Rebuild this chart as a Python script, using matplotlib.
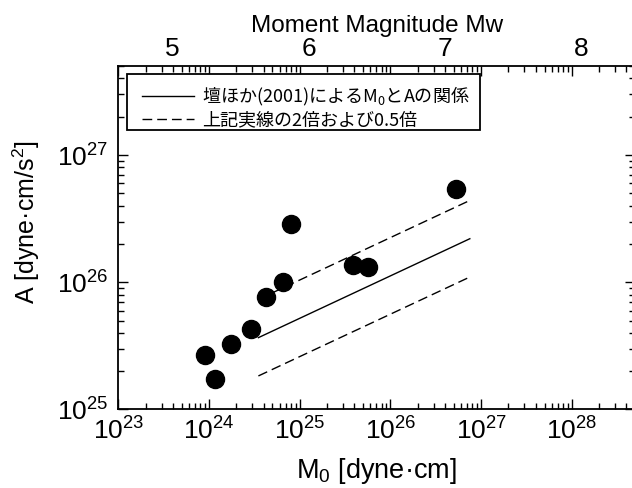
import numpy as np
import matplotlib
matplotlib.use("Agg")
import matplotlib.pyplot as plt
from matplotlib.patches import Rectangle

plt.rcParams['font.family'] = ['Liberation Sans', 'DejaVu Sans']
plt.rcParams['mathtext.default'] = 'regular'

# observed events
m0 = [9.0e23, 1.16e24, 1.73e24, 2.9e24, 4.2e24, 6.5e24, 7.96e24, 3.84e25, 5.7e25, 5.25e26]
acc = [2.69e25, 1.73e25, 3.28e25, 4.33e25, 7.73e25, 1.01e26, 2.87e26, 1.37e26, 1.33e26, 5.45e26]

# Dan et al. (2001) relation, end points
m0_line = [3.5e24, 7.5e26]
acc_line = [3.67e25, 2.2e26]
factors = [2.0, 0.5]

mw_ticks = [5, 6, 7, 8]

label_solid = "壇ほか(2001)によるM$_0$とAの関係"
label_dash = "上記実線の2倍および0.5倍"

fig = plt.figure(figsize=(6.32, 4.88), dpi=100)
ax = fig.add_axes([0.1872, 0.1609, 0.818, 0.7035])

ax.plot(m0_line, acc_line, color='black', lw=1.0, label=label_solid)
for i, f in enumerate(factors):
    ax.plot(m0_line, np.array(acc_line) * f, color='black', lw=1.0,
            dashes=(7, 3.6), label=label_dash if i == 0 else None)
ax.plot(m0, acc, 'o', color='black', ms=13, zorder=5)

ax.set_xscale('log')
ax.set_yscale('log')
ax.set_xlim(1e23, 5e28)
ax.set_ylim(1e25, 5e27)

ax.tick_params(which='both', direction='in', top=True, right=True, labelsize=19, width=1.0)
ax.tick_params(which='major', length=7)
ax.tick_params(which='minor', length=4)
ax.tick_params(axis='x', pad=6)
ax.tick_params(axis='y', pad=7)
ax.set_xticks([1e23, 1e24, 1e25, 1e26, 1e27, 1e28])
ax.set_yticks([1e25, 1e26, 1e27])
for s in ax.spines.values():
    s.set_linewidth(1.3)

ax.set_xlabel("M$_0$ [dyne·cm]", fontsize=19.5, labelpad=8)
ax.set_ylabel("A [dyne·cm/s$^2$]", fontsize=18)
ax.yaxis.set_label_coords(-0.148, 0.546)

# moment magnitude on top
sec = ax.secondary_xaxis('top', functions=(lambda x: (np.log10(x) - 16.1) / 1.5,
                                           lambda w: 10 ** (1.5 * np.asarray(w) + 16.1)))
sec.set_xticks(mw_ticks)
sec.set_xticklabels([str(t) for t in mw_ticks])
sec.tick_params(length=0, labelsize=19, pad=4)
sec.minorticks_off()
sec.spines['top'].set_visible(False)
sec.set_xlabel("Moment Magnitude Mw", fontsize=17.5, labelpad=3)

# legend box drawn separately so the padding can match
ax.add_patch(Rectangle((0.0168, 0.8142), 0.6828, 0.1631, transform=ax.transAxes,
                       facecolor='white', edgecolor='black', lw=1.3, zorder=6))
leg = ax.legend(loc='upper left', bbox_to_anchor=(0.046, 0.946), borderaxespad=0,
                prop={'family': ['Noto Sans CJK JP'], 'size': 13.0},
                frameon=False, handlelength=2.9, handletextpad=0.4,
                labelspacing=0.2, borderpad=0)
leg.set_zorder(7)

fig.savefig("out.png", dpi=100)
